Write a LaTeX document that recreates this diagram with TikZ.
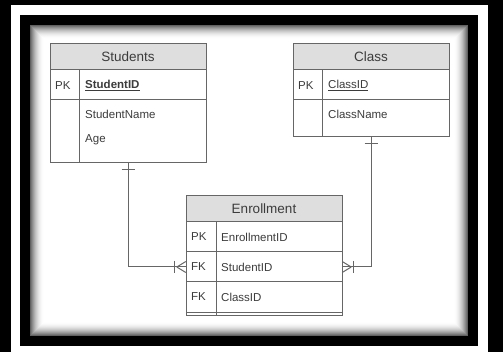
\documentclass[tikz,border=0pt]{standalone}
\usepackage{fontspec}
\setmainfont{Liberation Sans}
\usetikzlibrary{calc}
\definecolor{bordc}{HTML}{666666}
\definecolor{txtc}{HTML}{3C3C3C}
\definecolor{headc}{HTML}{DEDEDE}
\tikzset{
  tbl/.style={draw=bordc, line width=1pt, inner sep=0pt},
  hdr/.style={draw=bordc, fill=headc, line width=1pt, inner sep=0pt},
  sep/.style={draw=bordc, line width=1pt},
  htxt/.style={text=txtc, font=\fontsize{13.5}{15}\selectfont, inner sep=0pt},
  ktxt/.style={text=txtc, font=\fontsize{11.5}{13}\selectfont, inner sep=0pt, anchor=west},
  conn/.style={draw=bordc, line width=1pt},
}
\begin{document}
\begin{tikzpicture}[x=1pt,y=-1pt]
\useasboundingbox (0,0) rectangle (503,352);
% frame
\fill[black] (0,0) rectangle (503,352);
\fill[white] (11,5) rectangle (488,360);
\fill[black] (20,15) rectangle (478,346);
\fill[white] (30,25) rectangle (468,336);
\foreach \i in {0,...,13}{
  \pgfmathsetmacro\sh{62*(1-\i/14)^2}
  \draw[black!\sh!white, line width=1.05pt] (30.5+\i,25.5+\i) rectangle (467.5-\i,335.5-\i);
}
% Students table
\node[tbl, minimum width=156pt, minimum height=119pt] (stu) at (128,103.5) {};
\node[hdr, minimum width=156pt, minimum height=26pt] (stuh) at (128,57) {};
\node[htxt] (stut) at (stuh.center) {Students};
\draw[sep] (50,100) -- (206,100);
\draw[sep] (79.5,70) -- (79.5,163);
\node[ktxt] (stupk) at (55,85.5) {PK};
\node[ktxt] (stuid) at (85,85.5) {\underline{\textbf{StudentID}}};
\node[ktxt] (stuname) at (85,114) {StudentName};
\node[ktxt] (stuage) at (85,140) {Age};
% Class table
\node[tbl, minimum width=156pt, minimum height=93pt] (cls) at (371,90.5) {};
\node[hdr, minimum width=156pt, minimum height=26pt] (clsh) at (371,57) {};
\node[htxt] (clst) at (clsh.center) {Class};
\draw[sep] (293,100) -- (449,100);
\draw[sep] (322,70) -- (322,137);
\node[ktxt] (clspk) at (298,85.5) {PK};
\node[ktxt] (clsid) at (328,85.5) {\underline{ClassID}};
\node[ktxt] (clsname) at (328,114) {ClassName};
% Enrollment table
\node[tbl, minimum width=156pt, minimum height=120pt] (enr) at (264,256) {};
\node[hdr, minimum width=156pt, minimum height=26pt] (enrh) at (264,209) {};
\node[htxt] (enrt) at (enrh.center) {Enrollment};
\node[inner sep=0pt, minimum width=156pt, minimum height=30pt] (enrS) at (264,267) {};
\draw[sep] (186,252) -- (342,252);
\draw[sep] (186,282) -- (342,282);
\draw[sep] (186,312.5) -- (342,312.5);
\draw[sep] (216,222) -- (216,316);
\node[ktxt] (enrpk) at (191,237) {PK};
\node[ktxt] (enrid) at (221,237) {EnrollmentID};
\node[ktxt] (enrfk1) at (191,267) {FK};
\node[ktxt] (enrsid) at (221,267) {StudentID};
\node[ktxt] (enrfk2) at (191,297) {FK};
\node[ktxt] (enrcid) at (221,297) {ClassID};
% connectors
\draw[conn] (stu.south) |- (enrS.west);
\draw[conn] (cls.south) |- (enrS.east);
% one marks
\draw[conn] ($(stu.south)+(-6.5,6.5)$) -- ($(stu.south)+(6.5,6.5)$);
\draw[conn] ($(cls.south)+(-6.5,6.5)$) -- ($(cls.south)+(6.5,6.5)$);
% crow's feet left
\draw[conn] ($(enrS.west)+(-9,0)$) -- ($(enrS.west)+(0,-5.5)$);
\draw[conn] ($(enrS.west)+(-9,0)$) -- ($(enrS.west)+(0,5.5)$);
\draw[conn] ($(enrS.west)+(-11.5,-6)$) -- ($(enrS.west)+(-11.5,6)$);
% crow's feet right
\draw[conn] ($(enrS.east)+(9,0)$) -- ($(enrS.east)+(0,-5.5)$);
\draw[conn] ($(enrS.east)+(9,0)$) -- ($(enrS.east)+(0,5.5)$);
\draw[conn] ($(enrS.east)+(11.5,-6)$) -- ($(enrS.east)+(11.5,6)$);
\end{tikzpicture}
\end{document}
